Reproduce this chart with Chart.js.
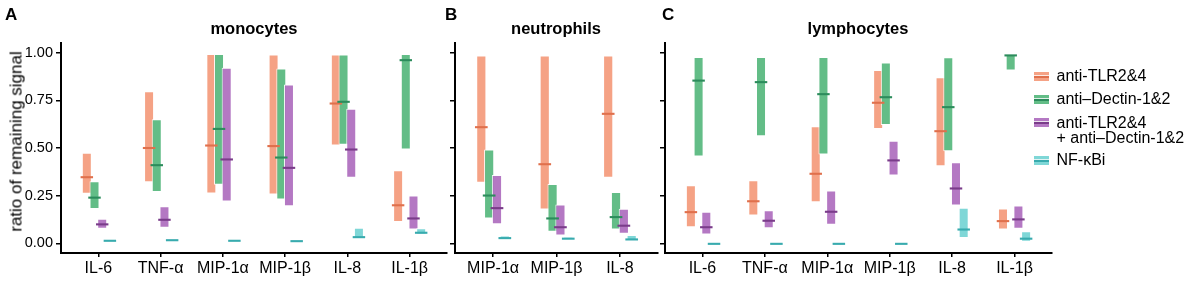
<!DOCTYPE html>
<html><head><meta charset="utf-8">
<script src="https://cdn.jsdelivr.net/npm/chart.js@4/dist/chart.umd.min.js"></script>
<style>
body{margin:0;background:#fff;width:1192px;height:282px;position:relative;overflow:hidden;font-family:"Liberation Sans",Arial,Helvetica,sans-serif;}
canvas{position:absolute;top:0;}
.t{position:absolute;line-height:1;white-space:nowrap;color:#000;}
.b{font-weight:bold;}
.sw{position:absolute;left:1034px;width:15px;height:9px;}
.sw i{position:absolute;left:0;right:0;top:3px;height:2px;border-top:1px solid rgba(255,255,255,0.85);}
</style></head><body>
<canvas id="cA" width="450" height="282" style="left:0px"></canvas>
<canvas id="cB" width="215" height="282" style="left:445px"></canvas>
<canvas id="cC" width="400" height="282" style="left:655px"></canvas>

<div class="t b" style="left:5px;top:6px;font-size:17px">A</div>
<div class="t b" style="left:445px;top:6px;font-size:17px">B</div>
<div class="t b" style="left:662px;top:6px;font-size:17px">C</div>
<div class="t b" style="left:154px;top:19.5px;width:200px;text-align:center;font-size:16.5px">monocytes</div>
<div class="t b" style="left:456px;top:19.5px;width:200px;text-align:center;font-size:16.5px">neutrophils</div>
<div class="t b" style="left:758px;top:19.5px;width:200px;text-align:center;font-size:16.5px">lymphocytes</div>
<div class="t" style="left:-84px;top:132.5px;width:200px;height:17px;line-height:17px;text-align:center;font-size:17px;transform:rotate(-90deg)">ratio of remaining signal</div>
<div id="legend"></div>

<script>
// ---------- data ----------
const yTickValues = [0, 0.25, 0.5, 0.75, 1];
const seriesNames = ['anti-TLR2&4', 'anti\u2013Dectin-1&2', 'anti-TLR2&4|+ anti\u2013Dectin-1&2', 'NF-\u03baBi'];

const monoCats  = ['IL-6', 'TNF-\u03b1', 'MIP-1\u03b1', 'MIP-1\u03b2', 'IL-8', 'IL-1\u03b2'];
const neutCats  = ['MIP-1\u03b1', 'MIP-1\u03b2', 'IL-8'];
const lymphCats = ['IL-6', 'TNF-\u03b1', 'MIP-1\u03b1', 'MIP-1\u03b2', 'IL-8', 'IL-1\u03b2'];

// each entry: [lower, median, upper]
const monoTLR    = [[0.26,0.347,0.475],[0.32,0.50,0.797],[0.262,0.513,0.993],[0.257,0.51,0.99],[0.513,0.733,0.99],[0.112,0.20,0.384]];
const monoDectin = [[0.18,0.24,0.326],[0.27,0.41,0.65],[0.307,0.60,0.993],[0.23,0.45,0.916],[0.517,0.742,0.99],[0.492,0.96,0.993]];
const monoBoth   = [[0.077,0.10,0.13],[0.082,0.124,0.195],[0.22,0.44,0.92],[0.195,0.396,0.832],[0.344,0.492,0.705],[0.073,0.131,0.251]];
const monoNFkB   = [[0.012,0.014,0.016],[0.015,0.017,0.019],[0.012,0.014,0.016],[0.010,0.012,0.014],[0.025,0.033,0.082],[0.047,0.056,0.08]];

const neutTLR    = [[0.318,0.609,0.984],[0.178,0.415,0.984],[0.344,0.679,0.984]];
const neutDectin = [[0.131,0.251,0.492],[0.061,0.131,0.312],[0.073,0.138,0.27]];
const neutBoth   = [[0.10,0.185,0.358],[0.042,0.085,0.204],[0.051,0.093,0.182]];
const neutNFkB   = [[0.024,0.028,0.042],[0.021,0.025,0.035],[0.018,0.021,0.044]];

const lymphTLR    = [[0.085,0.164,0.305],[0.147,0.221,0.331],[0.216,0.365,0.614],[0.60,0.737,0.909],[0.405,0.588,0.871],[0.073,0.117,0.183]];
const lymphDectin = [[0.455,0.853,0.977],[0.562,0.845,0.977],[0.466,0.782,0.977],[0.621,0.766,0.948],[0.483,0.714,0.975],[0.906,0.985,0.988]];
const lymphBoth   = [[0.047,0.085,0.166],[0.08,0.119,0.174],[0.098,0.166,0.277],[0.356,0.435,0.538],[0.199,0.288,0.426],[0.077,0.126,0.199]];
const lymphNFkB   = [[-0.003,-0.002,-0.001],[-0.003,-0.002,-0.001],[-0.003,-0.002,-0.001],[-0.003,-0.002,-0.001],[0.028,0.073,0.187],[0.009,0.025,0.064]];

// ---------- styles ----------
const boxColors  = ['rgba(243,146,112,0.85)', 'rgba(72,178,114,0.85)', 'rgba(167,96,184,0.85)', 'rgba(104,208,208,0.85)'];
const lineColors = ['#E0704C', '#2C8C5C', '#7A3C8A', '#38ABAE'];
const FONT = '"Liberation Sans", Arial, Helvetica, sans-serif';

// draw datasets in index order (boxes first, then medians on top)
const orderPlugin = {
  id: 'orderPlugin',
  beforeDatasetsDraw(chart) {
    const ctx = chart.ctx, a = chart.chartArea;
    ctx.save();
    ctx.beginPath();
    ctx.rect(a.left, a.top - 2, a.right - a.left, a.bottom - a.top + 2);
    ctx.clip();
    for (let i = 0; i < chart.data.datasets.length; i++) {
      const meta = chart.getDatasetMeta(i);
      if (!meta.hidden) meta.controller.draw();
    }
    ctx.restore();
    return false;
  }
};

function makePanel(id, cats, series, showLabels, yWidth, padRight) {
  const n = cats.length;
  const datasets = [];
  series.forEach((vals, k) => {
    datasets.push({
      data: vals.map((r, i) => ({x: i, y: [r[0], r[2]]})),
      backgroundColor: boxColors[k], borderColor: 'rgba(255,255,255,0.9)', borderWidth: 1, borderSkipped: false,
      stack: 'g' + k, barPercentage: 1.3, categoryPercentage: 0.494
    });
  });
  series.forEach((vals, k) => {
    datasets.push({
      data: vals.map((r, i) => ({x: i, y: [r[1] - 0.0055, r[1] + 0.0055]})),
      backgroundColor: lineColors[k], borderWidth: 0,
      stack: 'g' + k, barPercentage: 1.62, categoryPercentage: 0.494
    });
  });
  return new Chart(document.getElementById(id), {
    type: 'bar',
    data: {datasets},
    plugins: [orderPlugin],
    options: {
      responsive: false, animation: false, devicePixelRatio: 1,
      layout: {padding: {top: 43, right: padRight, bottom: 0, left: 0}},
      plugins: {legend: {display: false}, tooltip: {enabled: false}, title: {display: false}},
      scales: {
        x: {
          type: 'linear', min: -0.6, max: n - 0.4, stacked: true, offset: false,
          afterBuildTicks: s => { s.ticks = cats.map((c, i) => ({value: i})); },
          afterFit: s => { s.height = 29; },
          ticks: {callback: v => cats[v], font: {size: 16, family: FONT}, color: '#000', padding: 2, maxRotation: 0, autoSkip: false},
          grid: {offset: false, drawOnChartArea: false, drawTicks: true, tickLength: 4, color: '#000', lineWidth: 1.5},
          border: {display: true, color: '#000', width: 2}
        },
        y: {
          type: 'linear', min: -0.05, max: 1.05, stacked: false,
          afterBuildTicks: s => { s.ticks = yTickValues.map(v => ({value: v})); },
          afterFit: s => { s.width = yWidth; },
          ticks: {display: showLabels, callback: v => v.toFixed(2), font: {size: 14.5, family: FONT}, color: '#000', padding: 3},
          grid: {offset: false, drawOnChartArea: false, drawTicks: true, tickLength: 5, color: '#000', lineWidth: 1.5},
          border: {display: true, color: '#000', width: 2}
        }
      }
    }
  });
}

makePanel('cA', monoCats,  [monoTLR, monoDectin, monoBoth, monoNFkB], true, 61, 3);
makePanel('cB', neutCats,  [neutTLR, neutDectin, neutBoth, neutNFkB], false, 10, 2);
makePanel('cC', lymphCats, [lymphTLR, lymphDectin, lymphBoth, lymphNFkB], false, 10, 3);

// ---------- legend ----------
const legendBaselines = [82, 105, 128.3, 166];
const leg = document.getElementById('legend');
seriesNames.forEach((name, k) => {
  const bl = legendBaselines[k];
  const sw = document.createElement('div');
  sw.className = 'sw';
  sw.style.top = (bl - 10) + 'px';
  sw.style.background = boxColors[k];
  const ln = document.createElement('i');
  ln.style.background = lineColors[k];
  sw.appendChild(ln);
  leg.appendChild(sw);
  name.split('|').forEach((line, j) => {
    const d = document.createElement('div');
    d.className = 't';
    d.style.left = '1056.5px';
    d.style.fontSize = '16px';
    d.style.top = (bl - 13.54 + j * 15) + 'px';
    d.textContent = line;
    leg.appendChild(d);
  });
});
</script>
</body></html>
